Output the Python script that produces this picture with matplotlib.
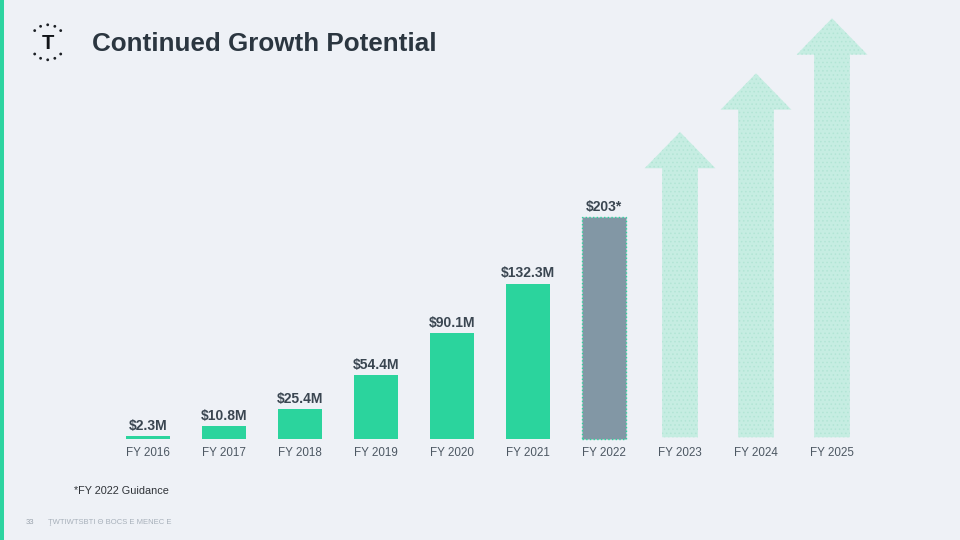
import numpy as np
import matplotlib
matplotlib.use("Agg")
import matplotlib.pyplot as plt
from matplotlib.patches import Rectangle, Circle

plt.rcParams['font.family'] = ['Liberation Sans', 'DejaVu Sans']
plt.rcParams['hatch.linewidth'] = 0.6

# ---- data ----
years = ["FY 2016", "FY 2017", "FY 2018", "FY 2019", "FY 2020", "FY 2021", "FY 2022"]
bar_heights = [2.3, 10.8, 25.4, 54.4, 90.1, 132.3, 189.0]   # drawn heights ($M)
bar_labels = ["$2.3M", "$10.8M", "$25.4M", "$54.4M", "$90.1M", "$132.3M", "$203*"]
future_years = ["FY 2023", "FY 2024", "FY 2025"]
arrow_tips = [262.0, 312.0, 359.0]   # illustrative arrow heights ($M scale)

title = "Continued Growth Potential"
footnote = "*FY 2022 Guidance"
page_no = "33"
footer_txt = "ŢWTIWTSBTI Θ BOCS Ε ΜΕΝΕC Ε"

BG = "#eef1f6"
GREEN = "#2bd49d"
GREY_BAR = "#8297a5"
MINT = "#c6ede2"
LABEL = "#3a4651"
TICK = "#4d5863"

fig = plt.figure(figsize=(9.6, 5.4), dpi=100, facecolor=BG)

# decoration layer in pixel coordinates
deco = fig.add_axes([0, 0, 1, 1], zorder=0)
deco.set_xlim(0, 960)
deco.set_ylim(540, 0)
deco.axis("off")
deco.set_facecolor(BG)
deco.add_patch(Rectangle((0, 0), 3.5, 540, color="#2dd4a0", lw=0))

# logo
cx, cy, r = 47.7, 42.3, 17.5
for ang in [42, 66, 90, 114, 138]:
    a = np.deg2rad(ang)
    deco.add_patch(Circle((cx + r * np.cos(a), cy - r * np.sin(a)), 1.4, color="#1b1f24", lw=0))
    deco.add_patch(Circle((cx + r * np.cos(a), cy + r * np.sin(a)), 1.4, color="#1b1f24", lw=0))
deco.text(cx, cy + 1, "T", fontsize=14.5, fontweight="bold", color="#111418", ha="center", va="center")

deco.text(92, 44, title, fontsize=18.7, fontweight="bold", color="#2b3640", ha="left", va="center")
deco.text(74, 491, footnote, fontsize=7.8, color="#2f3338", ha="left", va="center")
deco.text(26, 523, page_no, fontsize=5.5, color="#9aa3ad", ha="left", va="center")
deco.text(48, 523, footer_txt, fontsize=5.5, color="#a7b0ba", ha="left", va="center")

# chart layer
ax = fig.add_axes([0, 0, 1, 1], zorder=1)
ax.patch.set_alpha(0)
ax.axis("off")
px_x = 76.0     # pixels per category
px_y = 1.172    # pixels per $M
ax.set_xlim(-148 / px_x, (960 - 148) / px_x)
ax.set_ylim(-101 / px_y, (540 - 101) / px_y)

x = np.arange(len(years))
colors = [GREEN] * (len(years) - 1) + [GREY_BAR]
bars = ax.bar(x, bar_heights, width=0.58, color=colors, lw=0)
bars[-1].set_edgecolor(GREEN)
bars[-1].set_linestyle(":")
bars[-1].set_linewidth(1.0)

for xi, h, lab in zip(x, bar_heights, bar_labels):
    ax.annotate(lab, (xi, h), xytext=(0, 2.5), textcoords="offset points",
                ha="center", va="bottom", fontsize=10, fontweight="bold", color=LABEL)

xf = np.arange(len(years), len(years) + len(future_years))
for xi, tip in zip(xf, arrow_tips):
    ax.arrow(xi, 1.5, 0, tip - 1.5, width=0.47, head_width=0.93, head_length=31,
             length_includes_head=True, facecolor=MINT, edgecolor="#b2e5d5",
             hatch="....", lw=0)

for xi, lab in zip(list(x) + list(xf), years + future_years):
    ax.text(xi, -12, lab, ha="center", va="center", fontsize=8.4, color=TICK)

fig.savefig("out.png", dpi=100, facecolor=BG)
